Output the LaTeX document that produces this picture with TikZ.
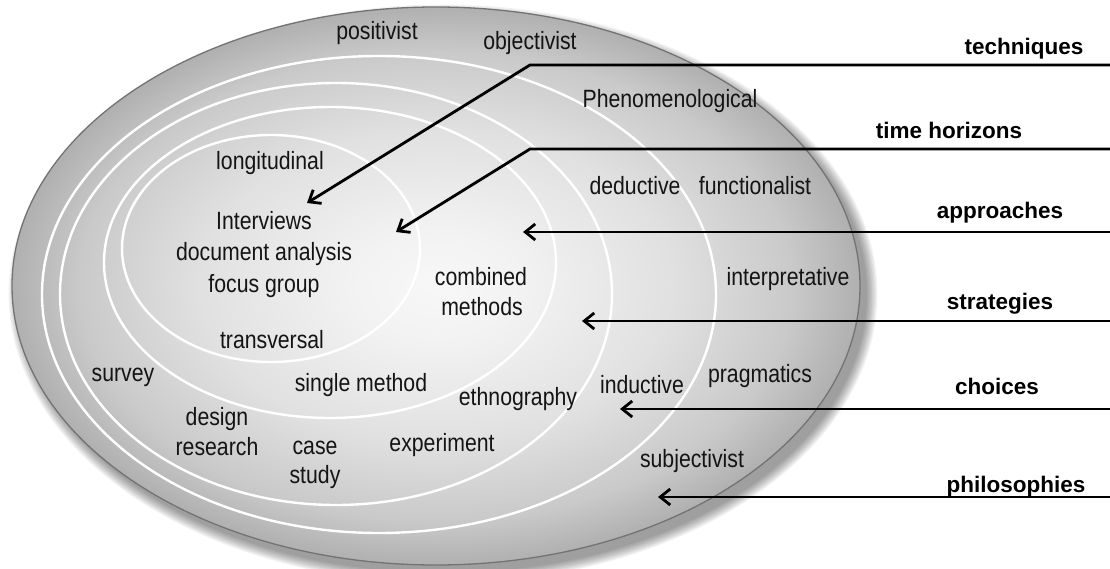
\documentclass[tikz,border=0pt]{standalone}
\usepackage{fontspec}
\newfontfamily\narrowfont[FakeStretch=0.85]{Liberation Sans}
\newfontfamily\headfont{Liberation Sans}
\usetikzlibrary{arrows.meta}
% grey bowl: light centre, darker rim
\pgfdeclareradialshading{bowl}{\pgfpoint{0bp}{0bp}}{%
  color(0bp)=(black!3); color(5bp)=(black!5); color(14bp)=(black!12);
  color(21bp)=(black!21); color(25bp)=(black!31); color(50bp)=(black!31)}
\begin{document}
\begin{tikzpicture}[x=1pt,y=-1pt,
  ring/.style={draw=white, line width=2.4pt},
  rim/.style={draw=black!55, line width=1.3pt},
  word/.style={font={\narrowfont\fontsize{25}{30}\selectfont}, text=black!92, anchor=base, inner sep=0pt},
  layer/.style={font={\headfont\bfseries\fontsize{22.5}{27}\selectfont}, text=black, anchor=base, inner sep=0pt},
  pointer/.style={draw=black, line width=2.8pt, -{Straight Barb[length=10pt,width=16pt]}}]
\useasboundingbox (0,0) rectangle (1110,569);

% soft drop shadow below right
\foreach \k in {0,...,8}
  \fill[black, opacity=0.05] (443,294) ellipse [x radius={424+1.3*\k}, y radius={279+1.3*\k}];

% outer body
\shade[shading=bowl] (436,286) ellipse [x radius=424, y radius=279];
\draw[rim] (436,286) ellipse [x radius=424, y radius=279];

% white layer boundaries
\draw[ring] (379,294.5) ellipse [x radius=337, y radius=238.5];
\draw[ring] (336,294) ellipse [x radius=276, y radius=211];
\draw[ring] (330,262.5) ellipse [x radius=226, y radius=155.5];
\draw[ring] (271,248.5) ellipse [x radius=149, y radius=113.5];

% philosophies
\node[word] (positivist) at (377,40) {positivist};
\node[word] (objectivist) at (530,50) {objectivist};
\node[word] (phenom) at (670,108) {Phenomenological};
\node[word] (functionalist) at (755,195) {functionalist};
\node[word] (interpretative) at (788,285) {interpretative};
\node[word] (pragmatics) at (760,382) {pragmatics};
\node[word] (subjectivist) at (692,467) {subjectivist};

% approaches
\node[word] (deductive) at (635,195) {deductive};
\node[word] (inductive) at (642,393) {inductive};

% strategies
\node[word] (survey) at (123,381) {survey};
\node[word] (design) at (217,425) {design};
\node[word] (research) at (217,455) {research};
\node[word] (case) at (315,454) {case};
\node[word] (study) at (315,483) {study};
\node[word] (experiment) at (442,451) {experiment};
\node[word] (ethnography) at (518,405) {ethnography};

% choices
\node[word] (single) at (361,391) {single method};
\node[word] (combined) at (481,285) {combined};
\node[word] (methods) at (482,315) {methods};

% time horizons
\node[word] (longitudinal) at (270,170) {longitudinal};
\node[word] (transversal) at (272,348) {transversal};

% techniques
\node[word] (interviews) at (264,230) {Interviews};
\node[word] (docanalysis) at (264,261) {document analysis};
\node[word] (focusgroup) at (264,292) {focus group};

% layer names on the right
\node[layer] (techniques) at (1024,55) {techniques};
\node[layer] (timehorizons) at (949,139) {time horizons};
\node[layer] (approaches) at (1000,219) {approaches};
\node[layer] (strategies) at (1000,309) {strategies};
\node[layer] (choices) at (997,394) {choices};
\node[layer] (philosophies) at (1016,492) {philosophies};

% pointer lines
\coordinate (techA) at (1112,65);  \coordinate (techB) at (530,65);  \coordinate (techC) at (307,203);
\coordinate (timeA) at (1112,149); \coordinate (timeB) at (530,149); \coordinate (timeC) at (396,232);
\coordinate (apprA) at (1112,232); \coordinate (apprC) at (523,232);
\coordinate (stratA) at (1112,321); \coordinate (stratC) at (582,321);
\coordinate (choiA) at (1112,409); \coordinate (choiC) at (620,409);
\coordinate (philA) at (1112,497); \coordinate (philC) at (658,497);

\draw[pointer] (techA) -- (techB) -- (techC);
\draw[pointer] (timeA) -- (timeB) -- (timeC);
\draw[pointer] (apprA) -- (apprC);
\draw[pointer] (stratA) -- (stratC);
\draw[pointer] (choiA) -- (choiC);
\draw[pointer] (philA) -- (philC);
\end{tikzpicture}
\end{document}
